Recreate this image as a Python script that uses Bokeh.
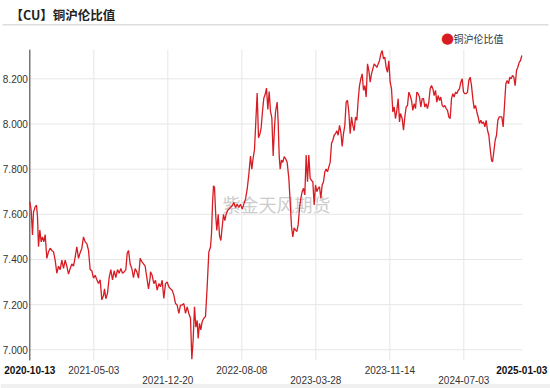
from bokeh.plotting import figure
from bokeh.models import Range1d, Label, BoxAnnotation, ColumnDataSource
from bokeh.core.properties import value
from bokeh.embed import file_html
from bokeh.resources import INLINE

# ---- data: trading-day position index and copper SHFE/LME ratio ----
idx = [0, 4, 8, 11, 16, 20, 23, 26, 30, 34, 38, 42, 46, 51, 56, 61, 66, 71, 76, 81,
       86, 91, 96, 101, 106, 111, 116, 121, 126, 131, 136, 141, 146, 151, 156, 161, 166, 171, 176, 181,
       186, 191, 196, 201, 206, 211, 216, 221, 224, 228, 233, 238, 243, 248, 253, 258, 263, 268, 273, 278,
       283, 288, 292, 296, 301, 306, 311, 316, 321, 326, 331, 336, 341, 346, 351, 356, 361,
       362, 367, 372, 377, 382, 387, 392, 397, 402, 407, 412, 417, 422, 427, 432, 437, 442, 447, 452, 457,
       462, 467, 472, 477, 482, 486, 490, 494, 498, 502, 505, 509, 513, 517, 522, 527, 532, 537, 542,
       545, 548, 551, 554, 558, 561, 565, 569, 573, 577, 581, 585, 589, 593, 597,
       602, 607, 612, 617, 622, 627, 632, 637, 642, 647, 652, 657, 662,
       666, 670, 674, 678, 682, 686, 690, 694, 698, 702, 706, 710, 714, 718, 722, 726, 730, 734,
       737, 742, 745, 748, 751, 755, 759, 763, 767, 772,
       777, 781, 785, 789, 793, 797, 801, 805, 809, 813, 817, 821, 825, 829, 833, 837, 841, 845, 849, 853,
       857, 861, 865, 869, 873, 877, 881, 885, 889, 893, 897, 901, 905, 909, 913, 917, 921, 925, 929, 933,
       937, 941, 945, 949, 953, 957, 961, 965, 969, 973, 977, 981, 985, 989, 993, 997, 1001, 1005, 1009, 1013,
       1017, 1021, 1025, 1029, 1033, 1037, 1041, 1045, 1049, 1053, 1057, 1061, 1065, 1069, 1073, 1077, 1081,
       1085, 1089, 1093, 1097, 1101, 1105, 1109,
       1112, 1117,
       1121, 1125, 1129, 1133, 1137, 1141, 1145, 1149, 1153, 1157, 1161, 1165, 1169, 1173, 1177, 1181, 1185,
       1189, 1193, 1197, 1201, 1205, 1209, 1213, 1217, 1221, 1225, 1229, 1233, 1237, 1241, 1245, 1249, 1253,
       1257, 1261, 1265, 1269, 1273, 1277, 1281, 1285, 1289, 1293, 1297, 1301, 1305, 1309, 1313, 1317, 1321,
       1325, 1329, 1333, 1337, 1341, 1345, 1349, 1353, 1357, 1361, 1365, 1369, 1373, 1377, 1381, 1385,
       1388,
       1392, 1396, 1400, 1404, 1408, 1412, 1416, 1420, 1424, 1428, 1432, 1436, 1440, 1444, 1448, 1452,
       1456, 1460, 1464, 1468, 1472, 1476]

ratio = [7.655, 7.618, 7.508, 7.61, 7.633, 7.64, 7.589, 7.456, 7.53, 7.478,
         7.50, 7.478, 7.51, 7.405, 7.434, 7.45, 7.44, 7.434, 7.397, 7.339,
         7.37, 7.355, 7.397, 7.36, 7.397, 7.37, 7.335, 7.36, 7.38, 7.37,
         7.41, 7.456, 7.405, 7.43, 7.45, 7.50, 7.478, 7.47, 7.44, 7.355,
         7.35, 7.317, 7.33, 7.31, 7.294, 7.31, 7.221, 7.24, 7.27, 7.226,
         7.25, 7.32, 7.355, 7.31, 7.35, 7.32, 7.355, 7.339, 7.36, 7.339,
         7.345, 7.355, 7.427, 7.44, 7.38, 7.36, 7.32, 7.36, 7.345, 7.317,
         7.405, 7.39, 7.38, 7.37, 7.32, 7.27, 7.32,
         7.345, 7.33, 7.293, 7.308, 7.264, 7.293, 7.279, 7.308, 7.227, 7.293,
         7.30, 7.279, 7.27, 7.264, 7.242, 7.205, 7.198, 7.161, 7.198, 7.198,
         7.205, 7.161, 7.19, 7.161, 7.14, 6.958, 7.044, 7.19, 7.10, 7.13,
         7.05, 7.117, 7.088, 7.125, 7.14, 7.147, 7.279, 7.433, 7.455, 7.513,
         7.645, 7.726, 7.72, 7.587, 7.528, 7.60, 7.506, 7.484, 7.543, 7.60,
         7.572, 7.60, 7.616, 7.623, 7.63, 7.638, 7.653, 7.63, 7.645, 7.63,
         7.645, 7.623, 7.645, 7.667, 7.711, 7.777, 7.858, 7.80, 7.85, 7.887,
         8.012, 8.137, 7.939, 7.954, 7.983, 8.056, 8.115, 8.13, 8.159, 8.064,
         8.144, 8.056, 8.027, 7.858, 7.983,
         8.053, 8.097, 8.009, 7.862, 7.80, 7.84, 7.83, 7.855, 7.847, 7.83,
         7.759, 7.656, 7.546, 7.50, 7.54, 7.53, 7.524, 7.553, 7.627, 7.67,
         7.70, 7.715, 7.686, 7.862, 7.744, 7.862, 7.759, 7.75, 7.744, 7.641,
         7.73, 7.70, 7.715, 7.722, 7.67, 7.73, 7.744, 7.788, 7.80, 7.788,
         7.81, 7.83, 7.913, 7.928, 7.95, 7.957, 7.97, 7.95, 7.994, 7.965,
         7.90, 7.957, 7.994, 8.097, 8.105, 8.053, 7.957, 8.031, 7.994, 7.97,
         8.031, 8.016, 8.105, 8.17, 8.20, 8.222, 8.149, 8.17, 8.119, 8.266,
         8.237, 8.185, 8.222, 8.244, 8.266, 8.259, 8.25, 8.266, 8.28, 8.31,
         8.325, 8.288, 8.296, 8.25, 8.229, 8.28, 8.185, 8.156, 8.053, 8.075,
         8.024, 8.06, 8.112, 8.009,
         8.046, 8.024,
         7.972, 8.031, 8.075, 8.082, 8.141, 8.126, 8.104, 8.06, 8.09, 8.068,
         8.141, 8.134, 8.119, 8.075, 8.112, 8.112, 8.075, 8.09, 8.068, 8.097,
         8.156, 8.17, 8.156, 8.126, 8.149, 8.097, 8.126, 8.104, 8.119, 8.082,
         8.075, 8.082, 8.068, 8.06, 8.031, 8.024, 8.112, 8.134, 8.119, 8.141,
         8.134, 8.149, 8.156, 8.185, 8.20, 8.141, 8.134, 8.134, 8.141, 8.193,
         8.207, 8.17, 8.112, 8.068, 8.082, 8.053, 8.031, 8.002, 8.016, 8.002,
         8.009, 7.987, 8.016, 7.972, 7.95, 7.891, 7.84,
         7.832,
         7.877, 7.928, 7.95, 8.016, 8.031, 8.031, 8.031, 7.987, 8.082, 8.178,
         8.193, 8.178, 8.207, 8.20, 8.215, 8.207, 8.17, 8.237, 8.251, 8.273,
         8.281, 8.303]

assert len(idx) == len(ratio), (len(idx), len(ratio))

tick_idx = [0, 192, 414, 636, 858, 1080, 1302, 1476]
tick_labels = ["2020-10-13", "2021-05-03", "2021-12-20", "2022-08-08",
               "2023-03-28", "2023-11-14", "2024-07-03", "2025-01-03"]
tick_row = [0, 0, 1, 0, 1, 0, 1, 0]
y_ticks = [7.0, 7.2, 7.4, 7.6, 7.8, 8.0, 8.2]
y_labels = ["7.000", "7.200", "7.400", "7.600", "7.800", "8.000", "8.200"]

# plotting window of the value axis (data units)
x_lo, x_hi = 0, 1477
y_lo, y_hi = 6.953, 8.329

title_text = "【CU】铜沪伦比值"
series_name = "铜沪伦比值"
watermark = "紫金天风期货"
line_color = "#d71c24"
grid_color = "#e6e6e6"
text_color = "#333333"

W, H = 550, 388
p = figure(width=W, height=H, output_backend="svg", toolbar_location=None,
           x_range=Range1d(-88, 1562), y_range=Range1d(6.8286, 8.5467),
           min_border_left=0, min_border_right=0, min_border_top=0, min_border_bottom=0)
p.xaxis.visible = False
p.yaxis.visible = False
p.xgrid.visible = False
p.ygrid.visible = False
p.outline_line_color = None
p.background_fill_color = "white"
p.border_fill_color = "white"

# bottom band (behind everything)
p.add_layout(BoxAnnotation(left=0, right=W, top=H - 383.5, bottom=0,
                           left_units="screen", right_units="screen",
                           top_units="screen", bottom_units="screen",
                           fill_color="#f0f0f0", fill_alpha=1.0, line_color=None,
                           level="underlay"))

# grid lines
p.segment(x0=[x_lo] * len(y_ticks), x1=[x_hi] * len(y_ticks), y0=y_ticks, y1=y_ticks,
          line_color=grid_color, line_width=1)
inner = tick_idx[1:-1]
p.segment(x0=inner, x1=inner, y0=[y_lo] * len(inner), y1=[y_hi] * len(inner),
          line_color=grid_color, line_width=1)

# watermark (behind the line)
p.add_layout(Label(x=222, y=H - 203, x_units="screen", y_units="screen",
                   text=watermark, text_font="Noto Sans CJK SC", text_font_size="18px",
                   text_color="#cccccc", text_baseline="middle", text_align="left",
                   level="underlay"))

# value axis line
p.segment(x0=[x_lo], x1=[x_lo], y0=[y_lo], y1=[y_hi], line_color="#333333", line_width=1)

# series
p.line(idx, ratio, line_color=line_color, line_width=1.3)

# y tick labels
p.text(x=[x_lo] * len(y_ticks), y=y_ticks, text=y_labels, x_offset=-2,
       text_font=value("Liberation Sans"), text_font_size="10px", text_color=text_color,
       text_align="right", text_baseline="middle")

# x tick labels (alternating rows, first/last bold)
bx, by, bt, bo, nx, ny, nt, no = [], [], [], [], [], [], [], []
for i, (t, lab, r) in enumerate(zip(tick_idx, tick_labels, tick_row)):
    off = 9.5 if r == 0 else 20.0
    if i == 0 or i == len(tick_idx) - 1:
        bx.append(t); by.append(y_lo); bt.append(lab); bo.append(off)
    else:
        nx.append(t); ny.append(y_lo); nt.append(lab); no.append(off)
bold_src = ColumnDataSource(dict(x=bx, y=by, t=bt, off=bo))
norm_src = ColumnDataSource(dict(x=nx, y=ny, t=nt, off=no))
p.text(x="x", y="y", text="t", y_offset="off", source=bold_src,
       text_font=value("Liberation Sans"), text_font_size="10px", text_font_style="bold",
       text_color="#111111", text_align="center", text_baseline="middle")
p.text(x="x", y="y", text="t", y_offset="off", source=norm_src,
       text_font=value("Liberation Sans"), text_font_size="10px",
       text_color=text_color, text_align="center", text_baseline="middle")

# title + separator
p.add_layout(Label(x=10, y=H - 13.5, x_units="screen", y_units="screen",
                   text=title_text, text_font="Noto Sans CJK SC", text_font_size="12.5px",
                   text_font_style="bold", text_color="#222222",
                   text_align="left", text_baseline="middle"))
p.add_layout(BoxAnnotation(left=2, right=548, top=H - 23.5, bottom=H - 25,
                           left_units="screen", right_units="screen",
                           top_units="screen", bottom_units="screen",
                           fill_color="#dddddd", fill_alpha=1.0, line_color=None,
                           level="underlay"))

# legend
p.add_layout(Label(x=447, y=H - 37.7, x_units="screen", y_units="screen",
                   text="●", text_font="DejaVu Sans", text_font_size="15px",
                   text_color=line_color, text_align="center", text_baseline="middle"))
p.add_layout(Label(x=453, y=H - 37.7, x_units="screen", y_units="screen",
                   text=series_name, text_font="Noto Sans CJK SC", text_font_size="10px",
                   text_color=text_color, text_align="left", text_baseline="middle"))

open("out.html", "w").write(file_html(p, INLINE))
